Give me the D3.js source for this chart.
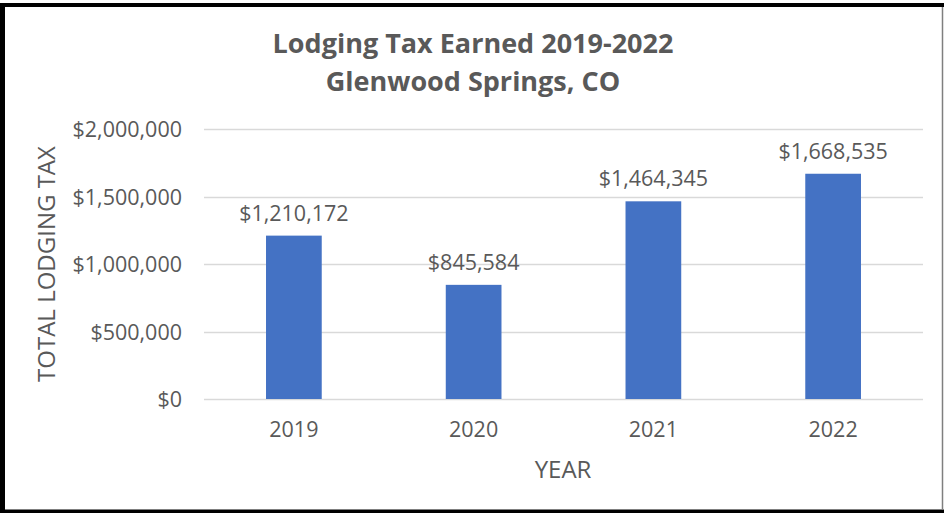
<!DOCTYPE html>
<html>
<head>
<meta charset="utf-8">
<script src="https://cdn.jsdelivr.net/npm/d3@7"></script>
<style>
  html, body { margin: 0; padding: 0; background: #fff; }
  svg { display: block; }
  text { font-family: "Open Sans", "Noto Sans", sans-serif; fill: #595959; }
</style>
</head>
<body>
<svg id="chart" width="944" height="513"></svg>
<script>
// Lodging tax collected per year
const years = ["2019", "2020", "2021", "2022"];
const taxValues = [1210172, 845584, 1464345, 1668535];
const yTicks = [0, 500000, 1000000, 1500000, 2000000];
const titleLines = ["Lodging Tax Earned 2019-2022", "Glenwood Springs, CO"];

const svg = d3.select("#chart");
const W = 944, H = 513;

// outer frame
svg.append("rect").attr("x", 0).attr("y", 0).attr("width", W).attr("height", H).attr("fill", "#fff");
svg.append("line").attr("x1", 942.5).attr("x2", 942.5).attr("y1", 5).attr("y2", 510).attr("stroke", "#7f7f7f").attr("stroke-width", 1.5);
svg.append("line").attr("x1", 0).attr("x2", 944).attr("y1", 509.5).attr("y2", 509.5).attr("stroke", "#7f7f7f").attr("stroke-width", 1);
svg.append("rect").attr("x", 0).attr("y", 3).attr("width", 944).attr("height", 4).attr("fill", "#000");
svg.append("rect").attr("x", 0).attr("y", 3).attr("width", 5).attr("height", 510).attr("fill", "#000");
svg.append("rect").attr("x", 0).attr("y", 510).attr("width", 944).attr("height", 3).attr("fill", "#000");

const plot = { left: 204, right: 923, top: 129, bottom: 399 };

const x = d3.scaleBand().domain(years).range([plot.left, plot.right]).paddingInner(0.69).paddingOuter(0.345);
const y = d3.scaleLinear().domain([0, 2000000]).range([plot.bottom, plot.top]);

const tickSize = 21.5;

// gridlines
svg.append("g").selectAll("line").data(yTicks).join("line")
  .attr("x1", plot.left).attr("x2", plot.right)
  .attr("y1", d => Math.round(y(d)) + 0.5).attr("y2", d => Math.round(y(d)) + 0.5)
  .attr("stroke", "#d9d9d9").attr("stroke-width", 1.3);

// y tick labels
const fmt = d3.format("$,.0f");
const yAxis = d3.axisLeft(y).tickValues(yTicks).tickFormat(fmt).tickSize(0).tickPadding(22);
const gy = svg.append("g").attr("transform", `translate(${plot.left},0)`).call(yAxis);
gy.select(".domain").remove();
gy.selectAll("text").attr("font-size", tickSize).attr("fill", "#595959")
  .style("font-family", "'Open Sans', sans-serif").attr("dy", "0.35em");

// x tick labels
const xAxis = d3.axisBottom(x).tickSize(0).tickPadding(23);
const gx = svg.append("g").attr("transform", `translate(0,${plot.bottom})`).call(xAxis);
gx.select(".domain").remove();
gx.selectAll("text").attr("font-size", tickSize).attr("fill", "#595959")
  .style("font-family", "'Open Sans', sans-serif");

// bars
svg.append("g").selectAll("rect").data(taxValues).join("rect")
  .attr("x", (d, i) => x(years[i]))
  .attr("width", x.bandwidth())
  .attr("y", d => y(d))
  .attr("height", d => y(0) - y(d))
  .attr("fill", "#4472c4");

// value labels
svg.append("g").selectAll("text").data(taxValues).join("text")
  .attr("x", (d, i) => x(years[i]) + x.bandwidth() / 2)
  .attr("y", d => y(d) - 15)
  .attr("text-anchor", "middle")
  .attr("font-size", tickSize)
  .text(d => fmt(d));

// title
svg.append("g").selectAll("text").data(titleLines).join("text")
  .attr("x", 473)
  .attr("y", (d, i) => 53 + i * 38)
  .attr("text-anchor", "middle")
  .attr("font-size", 27)
  .attr("font-weight", "bold")
  .text(d => d);

// axis titles
svg.append("text")
  .attr("transform", "translate(55,264) rotate(-90)")
  .attr("text-anchor", "middle")
  .attr("font-size", 24)
  .text("TOTAL LODGING TAX");

svg.append("text")
  .attr("x", 563).attr("y", 478)
  .attr("text-anchor", "middle")
  .attr("font-size", 24)
  .text("YEAR");
</script>
</body>
</html>
